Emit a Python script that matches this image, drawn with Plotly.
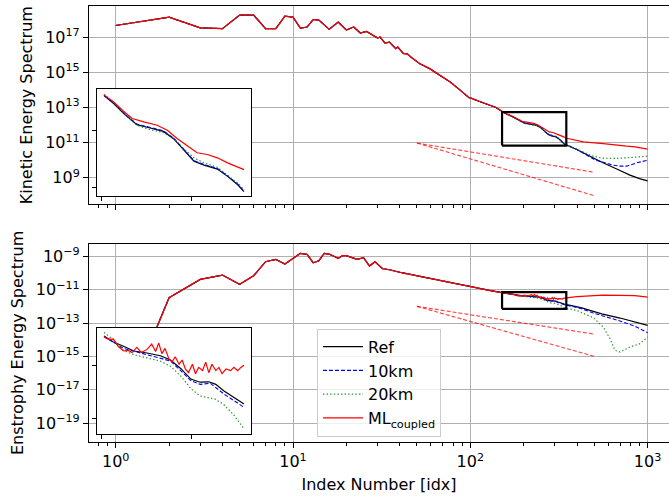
import numpy as np
import plotly.graph_objects as go

# ---------------------------------------------------------------------------
# Spectra (values stored as log10 of the spectral density)
# ---------------------------------------------------------------------------
# Large scales: all runs coincide
k_ke_low = [1, 2, 3, 4, 5, 6, 7, 8, 9, 10, 11, 12, 13, 14, 16, 18, 20, 22, 24, 26,
            30, 31, 33, 35, 38, 39, 42, 44, 47, 52, 59, 68, 77, 88, 98, 100, 113,
            121, 129, 138, 150]
ke_low_exp = [17.68, 18.15, 17.54, 17.50, 18.27, 18.27, 17.50, 17.50, 18.21, 18.16,
              17.53, 17.59, 18.02, 17.99, 17.46, 17.87, 17.42, 17.59, 17.25, 17.34,
              16.96, 17.02, 16.68, 16.73, 16.36, 16.45, 16.07, 16.07, 15.82, 15.50,
              15.22, 14.84, 14.46, 13.98, 13.57, 13.55, 13.32, 13.23, 13.13, 13.03,
              12.80]

k_en_low = [1, 2, 3, 4, 5, 6, 7, 8, 9, 10, 11, 12, 13, 14, 15, 16, 18, 19, 20, 23,
            25, 27, 29, 32, 35, 41, 53, 72, 100, 113, 130, 150]
en_low_exp = [-19.2, -11.48, -10.38, -10.12, -10.68, -10.16, -9.32, -9.18, -9.46,
              -9.12, -8.82, -8.88, -9.38, -9.26, -8.82, -8.86, -9.12, -8.96, -8.96,
              -9.18, -9.08, -9.58, -9.32, -9.74, -9.80, -9.98, -10.22, -10.54,
              -10.84, -10.92, -11.05, -11.17]

# Small scales: kinetic energy per run
k_ke_ref = [160, 172, 185, 202, 219, 236, 249, 262, 275, 288, 305, 318, 331, 339,
            398, 454, 505, 560, 670, 795, 900, 1000]
ke_ref_exp = [12.63, 12.49, 12.31, 12.11, 12.05, 11.99, 11.86, 11.65, 11.46, 11.39,
              11.32, 11.19, 11.04, 10.92, 10.61, 10.30, 10.05, 9.85, 9.50, 9.15,
              8.95, 8.82]

k_ke_10 = [160, 172, 185, 202, 219, 236, 249, 262, 275, 288, 305, 318, 331, 339,
           398, 454, 505, 562, 641, 700, 762, 868, 940, 1000]
ke_10_exp = [12.63, 12.50, 12.32, 12.12, 12.06, 12.00, 11.87, 11.66, 11.47, 11.40,
             11.33, 11.20, 11.05, 10.93, 10.62, 10.30, 10.02, 9.88, 9.71, 9.66,
             9.66, 9.85, 9.95, 10.00]

k_ke_20 = [160, 172, 185, 202, 219, 236, 249, 262, 275, 288, 305, 318, 331, 339,
           398, 454, 484, 551, 655, 778, 1000]
ke_20_exp = [12.65, 12.51, 12.31, 12.10, 12.02, 11.97, 11.86, 11.68, 11.52, 11.43,
             11.35, 11.21, 11.07, 10.95, 10.63, 10.35, 10.25, 10.12, 10.10, 10.14,
             10.23]

k_ke_ml = [160, 172, 185, 196, 211, 228, 241, 253, 266, 279, 292, 305, 318, 331,
           339, 350, 434, 562, 762, 850, 1000]
ke_ml_exp = [12.64, 12.52, 12.35, 12.22, 12.16, 12.10, 12.01, 11.87, 11.74, 11.61,
             11.58, 11.52, 11.43, 11.36, 11.31, 11.25, 11.04, 10.95, 10.80, 10.76,
             10.63]

# Small scales: enstrophy per run
k_en_ref = [160, 172, 185, 198, 215, 232, 245, 258, 271, 283, 294, 303, 313, 326,
            339, 420, 551, 699, 850, 1000]
en_ref_exp = [-11.224, -11.28, -11.32, -11.365, -11.384, -11.41, -11.45, -11.53,
              -11.63, -11.66, -11.656, -11.68, -11.74, -11.80, -11.865, -12.08,
              -12.45, -12.70, -12.93, -13.14]

k_en_10 = [160, 185, 215, 245, 258, 271, 283, 296, 313, 326, 339, 420, 494, 699,
           850, 1000]
en_10_exp = [-11.23, -11.34, -11.40, -11.46, -11.55, -11.645, -11.68, -11.67,
             -11.77, -11.83, -11.897, -12.12, -12.40, -12.88, -13.20, -13.58]

k_en_20 = [160, 172, 185, 198, 215, 232, 245, 258, 271, 283, 302, 313, 326, 339,
           398, 494, 562, 614, 655, 699, 795, 906, 1000]
en_20_exp = [-11.19, -11.26, -11.36, -11.40, -11.43, -11.46, -11.51, -11.60, -11.72,
             -11.79, -11.82, -11.87, -11.97, -12.10, -12.24, -12.68, -13.24, -13.94,
             -14.64, -14.74, -14.44, -14.24, -13.84]

k_en_ml = [160, 166, 172, 178, 185, 191, 196, 202, 208, 215, 221, 226, 230, 234,
           238, 243, 247, 251, 256, 260, 264, 268, 273, 277, 281, 286, 290, 294,
           298, 303, 307, 311, 316, 322, 326, 331, 335, 339, 400, 494, 560, 699,
           849, 1000]
en_ml_exp = [-11.23, -11.256, -11.25, -11.32, -11.365, -11.36, -11.38, -11.33,
             -11.38, -11.35, -11.30, -11.37, -11.29, -11.39, -11.34, -11.44, -11.47,
             -11.42, -11.49, -11.45, -11.535, -11.57, -11.49, -11.58, -11.52,
             -11.55, -11.47, -11.57, -11.49, -11.55, -11.52, -11.58, -11.535,
             -11.55, -11.52, -11.55, -11.52, -11.50, -11.42, -11.34, -11.33, -11.34,
             -11.36, -11.44]

# Reference power laws k^-5/3 and k^-3
k_slope = [50, 500]
slope_powers = [-5.0 / 3.0, -3.0]
ke_slope_anchor = 9.5e10
en_slope_anchor = 1.0e-12

# Zoom window used for the insets
k_zoom = [160, 339]

series_names = ["Ref", "10km", "20km", "ML<sub>coupled</sub>"]

# ---------------------------------------------------------------------------
# Tick definitions
# ---------------------------------------------------------------------------
x_major_exp = [0, 1, 2, 3]
ke_tick_exp = [9, 11, 13, 15, 17]
en_tick_exp = [-19, -17, -15, -13, -11, -9]


def join(k_a, e_a, k_b, e_b):
    k = np.array(list(k_a) + list(k_b), dtype=float)
    v = 10.0 ** np.array(list(e_a) + list(e_b), dtype=float)
    return k, v


ke_runs = [join(k_ke_low, ke_low_exp, k_ke_ref, ke_ref_exp),
           join(k_ke_low, ke_low_exp, k_ke_10, ke_10_exp),
           join(k_ke_low, ke_low_exp, k_ke_20, ke_20_exp),
           join(k_ke_low, ke_low_exp, k_ke_ml, ke_ml_exp)]
en_runs = [join(k_en_low, en_low_exp, k_en_ref, en_ref_exp),
           join(k_en_low, en_low_exp, k_en_10, en_10_exp),
           join(k_en_low, en_low_exp, k_en_20, en_20_exp),
           join(k_en_low, en_low_exp, k_en_ml, en_ml_exp)]

styles = [
    dict(color="black", width=1.2),
    dict(color="#0000ff", width=1.1, dash="4px,2px"),
    dict(color="rgba(0,128,0,0.85)", width=1.2, dash="1.4px,2.2px"),
    dict(color="#ff0000", width=1.2),
]

FONT = "DejaVu Sans"
FS = 16

fig = go.Figure()

# axes ids: main top (x,y), main bottom (x2,y2), inset top (x3,y3), inset bottom (x4,y4)
panels = [
    (ke_runs, "x", "y", "x3", "y3", ke_slope_anchor),
    (en_runs, "x2", "y2", "x4", "y4", en_slope_anchor),
]

inset_ranges = []
for p, (runs, xa, ya, xi, yi, anchor) in enumerate(panels):
    # main curves
    for i, (k, v) in enumerate(runs):
        fig.add_trace(go.Scatter(
            x=k, y=v, mode="lines", line=styles[i], name=series_names[i],
            legendgroup=series_names[i], showlegend=(p == 1),
            xaxis=xa, yaxis=ya, hoverinfo="skip"))
    # power-law guides
    for s in slope_powers:
        ks = np.array(k_slope, dtype=float)
        fig.add_trace(go.Scatter(
            x=ks, y=anchor * (ks / ks[0]) ** s, mode="lines",
            line=dict(color="rgba(255,0,0,0.75)", width=1.1, dash="4px,2px"),
            showlegend=False, xaxis=xa, yaxis=ya, hoverinfo="skip"))
    # zoomed window: data subset and 5 % margins
    kmin, kmax = k_zoom
    lo, hi = np.inf, -np.inf
    for k, v in runs:
        m = (k >= kmin) & (k <= kmax)
        lo = min(lo, np.log10(v[m]).min())
        hi = max(hi, np.log10(v[m]).max())
    dx = 0.05 * (kmax - kmin)
    dy = 0.05 * (hi - lo)
    xr = [kmin - dx, kmax + dx]
    yr = [lo - dy, hi + dy]
    inset_ranges.append((xr, yr))
    # window outline on the main axes
    fig.add_trace(go.Scatter(
        x=[xr[0], xr[1], xr[1], xr[0], xr[0]],
        y=[10 ** yr[0], 10 ** yr[0], 10 ** yr[1], 10 ** yr[1], 10 ** yr[0]],
        mode="lines", line=dict(color="black", width=2.2), showlegend=False,
        xaxis=xa, yaxis=ya, hoverinfo="skip"))
    # inset curves
    for i, (k, v) in enumerate(runs):
        m = (k >= kmin) & (k <= kmax)
        fig.add_trace(go.Scatter(
            x=k[m], y=v[m], mode="lines", line=styles[i], showlegend=False,
            xaxis=xi, yaxis=yi, hoverinfo="skip"))

# ---------------------------------------------------------------------------
# Layout
# ---------------------------------------------------------------------------
W, H = 669, 498
ML_, MR, MT, MB = 89, 0, 5.5, 56.3
plot_h = H - MT - MB


def py(pix):
    return (H - MB - pix) / plot_h


def px(pix):
    return (pix - ML_) / (W - ML_ - MR)


x_range = [-0.1506, 3.1207]
x_tickvals = [10 ** e for e in x_major_exp]
x_ticktext = ["10<sup>%d</sup>" % e for e in x_major_exp]
x_minor = [m * 10 ** d for d in range(-1, 4) for m in range(2, 10)
           if 10 ** x_range[0] <= m * 10 ** d <= 10 ** x_range[1]]

grid = dict(showgrid=True, gridcolor="#b0b0b0", gridwidth=1)
spine = dict(showline=True, linecolor="black", linewidth=1.1, ticks="outside",
             ticklen=5, tickwidth=1, tickcolor="black",
             tickfont=dict(family=FONT, size=FS, color="black"), zeroline=False)


def xaxis_main(show_labels, title=None):
    d = dict(type="log", range=x_range, tickmode="array", tickvals=x_tickvals,
             ticktext=x_ticktext, showticklabels=show_labels, mirror=True,
             minor=dict(tickmode="array", tickvals=x_minor, ticks="outside",
                        ticklen=3, tickwidth=0.8, tickcolor="black", showgrid=False),
             **grid, **spine)
    if title:
        d["title"] = dict(text=title, font=dict(family=FONT, size=FS, color="black"),
                          standoff=8)
    return d


def yaxis_main(exps, rng, title):
    return dict(type="log", range=rng, tickmode="array",
                tickvals=[10.0 ** e for e in exps],
                ticktext=["10<sup>%s</sup>" % (str(e).replace("-", "\u2212")) for e in exps],
                title=dict(text=title, font=dict(family=FONT, size=FS, color="black"),
                           standoff=8),
                **grid, **spine)


inset_common = dict(showline=True, linecolor="black", linewidth=1.1, mirror=True,
                    ticks="outside", ticklen=4, tickwidth=1, tickcolor="black",
                    showticklabels=False, showgrid=False, zeroline=False)

(top_xr, top_yr), (bot_xr, bot_yr) = inset_ranges

fig.update_layout(
    width=W, height=H,
    margin=dict(l=ML_, r=MR, t=MT, b=MB, pad=0),
    paper_bgcolor="white", plot_bgcolor="white",
    font=dict(family=FONT, size=FS, color="black"),
    xaxis=dict(domain=[0, 1], anchor="y", **xaxis_main(False)),
    yaxis=dict(domain=[py(204), 1], anchor="x",
               **yaxis_main(ke_tick_exp, [7.48, 18.79], "Kinetic Energy Spectrum")),
    xaxis2=dict(domain=[0, 1], anchor="y2",
                **xaxis_main(True, "Index Number [idx]")),
    yaxis2=dict(domain=[0, py(243.5)], anchor="x2",
                **yaxis_main(en_tick_exp, [-20.14, -8.25], "Enstrophy Energy Spectrum")),
    xaxis3=dict(domain=[px(97), px(251)], anchor="y3", range=top_xr,
                tickmode="array", tickvals=[157, 272], **inset_common),
    yaxis3=dict(domain=[py(196), py(89)], anchor="x3", type="log", range=top_yr,
                tickmode="array", tickvals=[1e11, 1e12], **inset_common),
    xaxis4=dict(domain=[px(97), px(251)], anchor="y4", range=bot_xr,
                tickmode="array", tickvals=[157, 272], **inset_common),
    yaxis4=dict(domain=[py(433.3), py(327.3)], anchor="x4", type="log", range=bot_yr,
                tickmode="array", tickvals=[1e-12, 10 ** -11.5], **inset_common),
    legend=dict(x=px(317), y=py(328.3), xanchor="left", yanchor="top",
                bgcolor="rgba(255,255,255,0.8)", bordercolor="#cccccc", borderwidth=1,
                font=dict(family=FONT, size=FS, color="black"),
                tracegroupgap=0, itemwidth=40),
    showlegend=True,
)

fig.write_html("out.html")
